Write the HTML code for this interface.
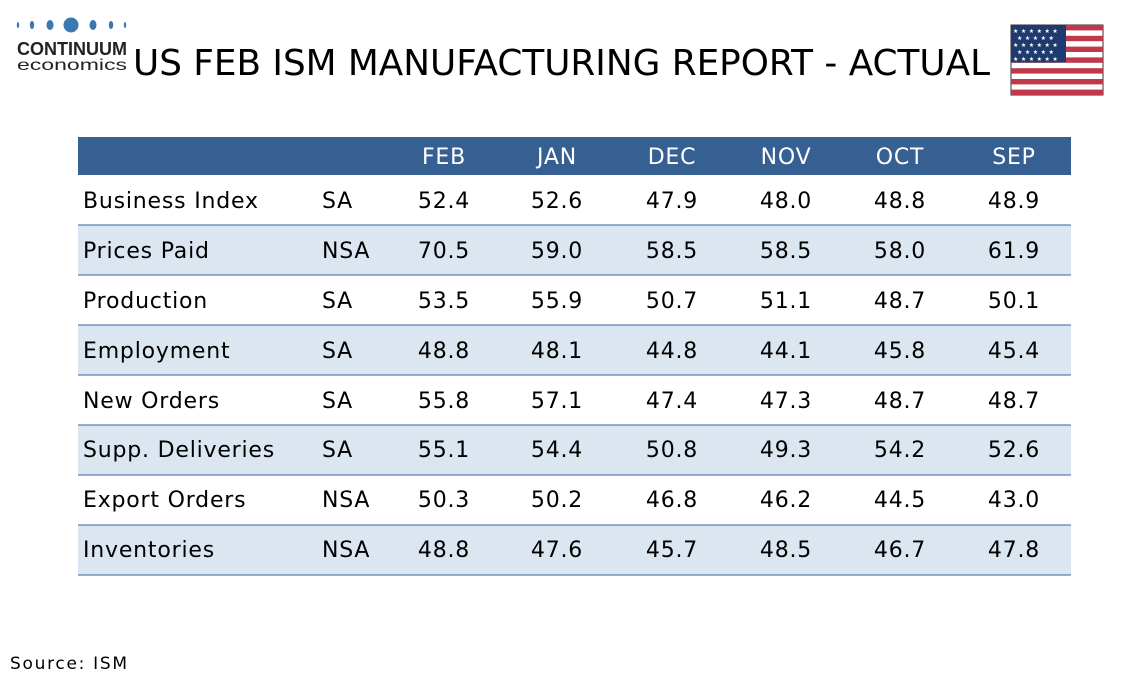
<!DOCTYPE html>
<html><head><meta charset="utf-8"><style>
html,body{margin:0;padding:0;background:#fff;}
svg{display:block;}
text{font-family:"DejaVu Sans","Liberation Sans",sans-serif;}
</style></head><body>
<svg width="1134" height="680" viewBox="0 0 1134 680" xmlns="http://www.w3.org/2000/svg">
<g fill="#3a78b0">
<ellipse cx="18" cy="25" rx="1.2" ry="3"/>
<ellipse cx="32" cy="25" rx="2.2" ry="4"/>
<ellipse cx="50" cy="25" rx="3.5" ry="5"/>
<circle cx="71" cy="25" r="7.5"/>
<ellipse cx="93" cy="25" rx="3.5" ry="5"/>
<ellipse cx="111" cy="25" rx="2.2" ry="4"/>
<ellipse cx="125" cy="25" rx="1.2" ry="3"/>
</g>
<text x="17" y="55" font-size="18" font-weight="bold" fill="#222" textLength="110" lengthAdjust="spacingAndGlyphs" style="font-family:'Liberation Sans',sans-serif">CONTINUUM</text>
<text x="17" y="70" font-size="16" fill="#222" textLength="110" lengthAdjust="spacingAndGlyphs" style="font-family:'Liberation Sans',sans-serif">economics</text>
<text x="133" y="75" font-size="36" fill="#000" textLength="857" lengthAdjust="spacingAndGlyphs">US FEB ISM MANUFACTURING REPORT - ACTUAL</text>
<g>
<rect x="1011" y="25" width="92" height="70" fill="#fff" stroke="#333" stroke-width="1"/>
<g fill="#c0394a">
<rect x="1011" y="25" width="92" height="5.4"/>
<rect x="1011" y="35.8" width="92" height="5.4"/>
<rect x="1011" y="46.6" width="92" height="5.4"/>
<rect x="1011" y="57.4" width="92" height="5.4"/>
<rect x="1011" y="68.2" width="92" height="5.4"/>
<rect x="1011" y="79" width="92" height="5.4"/>
<rect x="1011" y="89.6" width="92" height="5.4"/>
</g>
<rect x="1011" y="25" width="55" height="37.5" fill="#1f3a6e"/>
<g fill="#fff" font-size="6">
<text x="1013" y="33" style="font-family:'DejaVu Sans'" letter-spacing="2.5">★★★★★★</text>
<text x="1017" y="40" style="font-family:'DejaVu Sans'" letter-spacing="2.5">★★★★★</text>
<text x="1013" y="47" style="font-family:'DejaVu Sans'" letter-spacing="2.5">★★★★★★</text>
<text x="1017" y="54" style="font-family:'DejaVu Sans'" letter-spacing="2.5">★★★★★</text>
<text x="1013" y="61" style="font-family:'DejaVu Sans'" letter-spacing="2.5">★★★★★★</text>
</g>
</g>
<rect x="78" y="137" width="993" height="38" fill="#376092"/>
<g fill="#dce6f1">
<rect x="78" y="225" width="993" height="50"/>
<rect x="78" y="325" width="993" height="50"/>
<rect x="78" y="425" width="993" height="50"/>
<rect x="78" y="525" width="993" height="50"/>
</g>
<g stroke="#5b7fb5" stroke-width="1.2">
<line x1="78" y1="225" x2="1071" y2="225"/>
<line x1="78" y1="275" x2="1071" y2="275"/>
<line x1="78" y1="325" x2="1071" y2="325"/>
<line x1="78" y1="375" x2="1071" y2="375"/>
<line x1="78" y1="425" x2="1071" y2="425"/>
<line x1="78" y1="475" x2="1071" y2="475"/>
<line x1="78" y1="525" x2="1071" y2="525"/>
<line x1="78" y1="575" x2="1071" y2="575"/>
</g>
<g font-size="22" fill="#fff" text-anchor="middle" letter-spacing="0.8">
<text x="444" y="164">FEB</text><text x="557" y="164">JAN</text><text x="672" y="164">DEC</text>
<text x="786" y="164">NOV</text><text x="900" y="164">OCT</text><text x="1014" y="164">SEP</text>
</g>
<g font-size="22" fill="#000" letter-spacing="0.8">
<text x="83" y="208">Business Index</text><text x="322" y="208">SA</text>
<text x="83" y="258">Prices Paid</text><text x="322" y="258">NSA</text>
<text x="83" y="308">Production</text><text x="322" y="308">SA</text>
<text x="83" y="358">Employment</text><text x="322" y="358">SA</text>
<text x="83" y="408">New Orders</text><text x="322" y="408">SA</text>
<text x="83" y="457">Supp. Deliveries</text><text x="322" y="457">SA</text>
<text x="83" y="507">Export Orders</text><text x="322" y="507">NSA</text>
<text x="83" y="557">Inventories</text><text x="322" y="557">NSA</text>
</g>
<g font-size="22" fill="#000" text-anchor="middle" letter-spacing="0.8">
<text y="208"><tspan x="444">52.4</tspan><tspan x="557">52.6</tspan><tspan x="672">47.9</tspan><tspan x="786">48.0</tspan><tspan x="900">48.8</tspan><tspan x="1014">48.9</tspan></text>
<text y="258"><tspan x="444">70.5</tspan><tspan x="557">59.0</tspan><tspan x="672">58.5</tspan><tspan x="786">58.5</tspan><tspan x="900">58.0</tspan><tspan x="1014">61.9</tspan></text>
<text y="308"><tspan x="444">53.5</tspan><tspan x="557">55.9</tspan><tspan x="672">50.7</tspan><tspan x="786">51.1</tspan><tspan x="900">48.7</tspan><tspan x="1014">50.1</tspan></text>
<text y="358"><tspan x="444">48.8</tspan><tspan x="557">48.1</tspan><tspan x="672">44.8</tspan><tspan x="786">44.1</tspan><tspan x="900">45.8</tspan><tspan x="1014">45.4</tspan></text>
<text y="408"><tspan x="444">55.8</tspan><tspan x="557">57.1</tspan><tspan x="672">47.4</tspan><tspan x="786">47.3</tspan><tspan x="900">48.7</tspan><tspan x="1014">48.7</tspan></text>
<text y="457"><tspan x="444">55.1</tspan><tspan x="557">54.4</tspan><tspan x="672">50.8</tspan><tspan x="786">49.3</tspan><tspan x="900">54.2</tspan><tspan x="1014">52.6</tspan></text>
<text y="507"><tspan x="444">50.3</tspan><tspan x="557">50.2</tspan><tspan x="672">46.8</tspan><tspan x="786">46.2</tspan><tspan x="900">44.5</tspan><tspan x="1014">43.0</tspan></text>
<text y="557"><tspan x="444">48.8</tspan><tspan x="557">47.6</tspan><tspan x="672">45.7</tspan><tspan x="786">48.5</tspan><tspan x="900">46.7</tspan><tspan x="1014">47.8</tspan></text>
</g>
<text x="10" y="669" font-size="17" fill="#000" textLength="117" lengthAdjust="spacing">Source: ISM</text>
</svg>
</body></html>
